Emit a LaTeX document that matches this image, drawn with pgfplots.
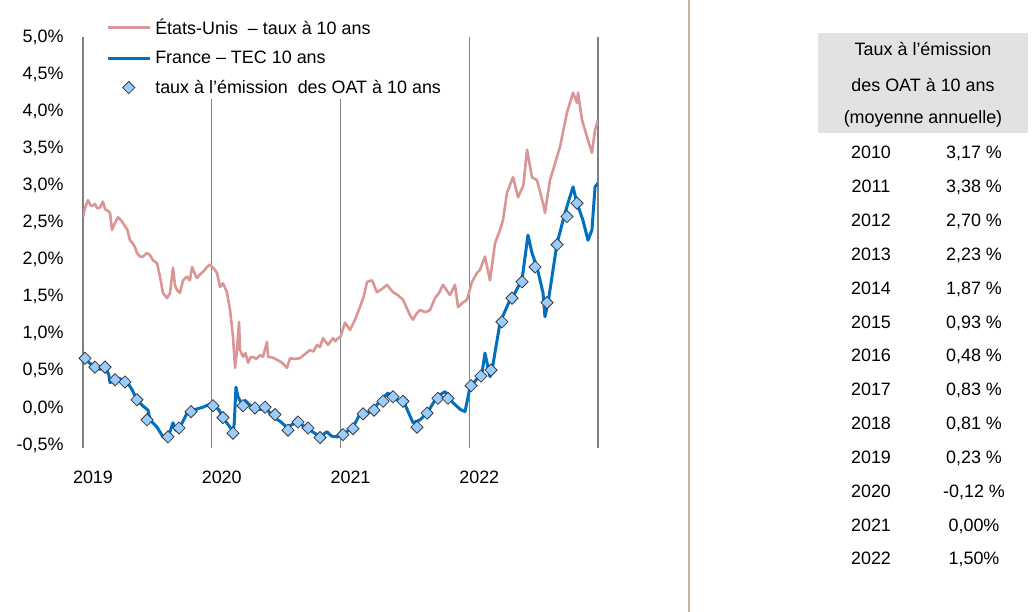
\documentclass[border=0pt]{standalone}
\usepackage{fontspec}
\setmainfont{Liberation Sans}
\usepackage{pgfplots}
\usepackage{pgfplotstable}
\pgfplotsset{compat=1.18}
\definecolor{usred}{RGB}{217,150,148}
\definecolor{frblue}{RGB}{0,112,192}
\definecolor{oatfill}{RGB}{153,204,255}
\definecolor{oatdraw}{RGB}{60,60,60}
\definecolor{sepcol}{RGB}{196,182,150}
\definecolor{hdr}{RGB}{226,226,226}
\newcommand{\fs}{\fontsize{18}{21}\selectfont}
\pgfplotsset{
  lineleg/.style={legend image code/.code={\draw[##1] (0bp,0bp) -- (42bp,0bp);}},
  markleg/.style={legend image code/.code={\draw[##1] plot coordinates {(21bp,0bp)};}},
}

\pgfplotstableread{
t v
2019.000 2.57
2019.016 2.70
2019.039 2.80
2019.055 2.74
2019.070 2.72
2019.093 2.75
2019.110 2.69
2019.132 2.70
2019.155 2.78
2019.171 2.68
2019.190 2.66
2019.210 2.63
2019.225 2.40
2019.250 2.50
2019.272 2.57
2019.300 2.52
2019.326 2.45
2019.345 2.40
2019.365 2.26
2019.385 2.22
2019.404 2.17
2019.419 2.09
2019.443 2.04
2019.466 2.04
2019.497 2.09
2019.520 2.06
2019.544 1.99
2019.575 1.95
2019.598 1.77
2019.621 1.55
2019.652 1.48
2019.676 1.55
2019.699 1.89
2019.715 1.65
2019.730 1.59
2019.753 1.55
2019.777 1.72
2019.808 1.77
2019.830 1.72
2019.847 1.90
2019.870 1.80
2019.885 1.75
2019.909 1.80
2019.935 1.84
2019.963 1.90
2019.986 1.93
2020.015 1.88
2020.041 1.82
2020.064 1.63
2020.087 1.68
2020.118 1.56
2020.142 1.32
2020.165 0.96
2020.181 0.54
2020.196 0.78
2020.212 1.16
2020.219 0.78
2020.243 0.69
2020.262 0.74
2020.282 0.61
2020.300 0.68
2020.320 0.69
2020.345 0.66
2020.375 0.71
2020.398 0.69
2020.429 0.89
2020.437 0.69
2020.470 0.68
2020.507 0.65
2020.545 0.61
2020.584 0.54
2020.608 0.67
2020.640 0.66
2020.685 0.67
2020.720 0.72
2020.763 0.78
2020.790 0.76
2020.817 0.85
2020.840 0.82
2020.864 0.94
2020.903 0.85
2020.942 0.94
2020.960 0.90
2020.981 0.94
2021.000 0.96
2021.035 1.15
2021.074 1.05
2021.113 1.19
2021.151 1.36
2021.180 1.50
2021.206 1.70
2021.245 1.72
2021.283 1.56
2021.320 1.60
2021.361 1.66
2021.408 1.56
2021.445 1.52
2021.485 1.46
2021.540 1.25
2021.563 1.19
2021.590 1.27
2021.618 1.32
2021.660 1.29
2021.695 1.32
2021.734 1.48
2021.765 1.55
2021.796 1.66
2021.850 1.52
2021.889 1.66
2021.913 1.36
2021.950 1.42
2021.983 1.46
2022.021 1.70
2022.060 1.82
2022.083 1.86
2022.122 2.04
2022.161 1.72
2022.200 2.22
2022.239 2.40
2022.262 2.53
2022.293 2.90
2022.340 3.11
2022.379 2.84
2022.420 3.00
2022.449 3.48
2022.487 3.11
2022.526 3.07
2022.573 2.76
2022.588 2.63
2022.627 3.07
2022.705 3.52
2022.759 3.98
2022.806 4.25
2022.837 4.11
2022.845 4.25
2022.876 3.88
2022.922 3.61
2022.953 3.44
2022.977 3.75
2023.000 3.88
}\ustable

\pgfplotstableread{
t v
2019.000 0.69
2019.040 0.62
2019.093 0.55
2019.132 0.52
2019.171 0.55
2019.200 0.45
2019.210 0.34
2019.249 0.38
2019.280 0.40
2019.342 0.35
2019.380 0.25
2019.419 0.11
2019.470 0.02
2019.505 -0.03
2019.520 -0.16
2019.575 -0.26
2019.621 -0.39
2019.660 -0.40
2019.699 -0.20
2019.720 -0.30
2019.753 -0.26
2019.808 -0.07
2019.854 -0.03
2019.932 0.01
2020.010 0.07
2020.064 -0.05
2020.087 -0.13
2020.150 -0.28
2020.165 -0.34
2020.175 -0.20
2020.188 0.28
2020.204 0.15
2020.235 0.04
2020.260 0.10
2020.320 0.00
2020.380 -0.02
2020.414 0.01
2020.476 -0.12
2020.530 -0.18
2020.584 -0.26
2020.662 -0.19
2020.740 -0.27
2020.790 -0.33
2020.841 -0.39
2020.895 -0.32
2020.930 -0.38
2020.973 -0.39
2021.019 -0.36
2021.097 -0.26
2021.167 -0.03
2021.200 -0.08
2021.252 -0.03
2021.300 0.08
2021.369 0.20
2021.439 0.11
2021.485 0.11
2021.563 -0.20
2021.618 -0.16
2021.672 -0.07
2021.750 0.15
2021.812 0.22
2021.874 0.07
2021.930 -0.02
2021.967 -0.05
2022.006 0.28
2022.040 0.35
2022.099 0.47
2022.122 0.74
2022.161 0.42
2022.177 0.51
2022.239 1.15
2022.317 1.46
2022.340 1.50
2022.394 1.68
2022.410 1.73
2022.456 2.33
2022.487 2.09
2022.526 1.90
2022.573 1.55
2022.588 1.23
2022.612 1.42
2022.682 2.22
2022.744 2.63
2022.806 2.98
2022.837 2.76
2022.883 2.53
2022.922 2.26
2022.953 2.40
2022.977 2.98
2023.000 3.03
}\frtable

\pgfplotstableread{
t v
2019.016 0.67
2019.093 0.55
2019.171 0.55
2019.249 0.38
2019.326 0.35
2019.419 0.11
2019.497 -0.16
2019.660 -0.39
2019.746 -0.27
2019.839 -0.05
2020.010 0.03
2020.087 -0.13
2020.165 -0.34
2020.243 0.03
2020.336 0.00
2020.414 0.01
2020.491 -0.09
2020.592 -0.30
2020.670 -0.19
2020.748 -0.27
2020.841 -0.40
2021.019 -0.36
2021.097 -0.28
2021.175 -0.08
2021.260 -0.03
2021.330 0.09
2021.408 0.15
2021.485 0.09
2021.594 -0.26
2021.672 -0.07
2021.757 0.13
2021.835 0.13
2022.014 0.30
2022.091 0.43
2022.169 0.51
2022.254 1.16
2022.332 1.48
2022.410 1.70
2022.511 1.90
2022.604 1.42
2022.682 2.20
2022.759 2.58
2022.837 2.76
}\oattable

\begin{document}
\begin{tikzpicture}[x=1bp,y=1bp]
\path[use as bounding box] (0,0) rectangle (1035,612);
\begin{axis}[
  at={(83bp,164bp)}, anchor=south west,
  scale only axis, width=515bp, height=411bp,
  xmin=2019, xmax=2023, ymin=-0.54, ymax=5,
  axis line style={draw=none},
  major tick length=0pt,
  xtick={2019,2020,2021,2022,2023},
  xticklabels={2019,2020,2021,2022,{}},
  ytick={-0.5,0,0.5,1,1.5,2,2.5,3,3.5,4,4.5,5},
  yticklabels={{-0,5\%},{0,0\%},{0,5\%},{1,0\%},{1,5\%},{2,0\%},{2,5\%},{3,0\%},{3,5\%},{4,0\%},{4,5\%},{5,0\%}},
  xmajorgrids, grid style={color=gray, line width=1.2bp},
  tick label style={font=\fs},
  xticklabel style={xshift=10bp, yshift=-19bp},
  yticklabel style={xshift=-16bp},
  legend style={at={(0.039,1.0535)}, anchor=north west, fill=white, draw=none, font=\fs, row sep=11bp,
    /tikz/every odd column/.append style={column sep=2bp}},
  legend cell align=left,
]
\addplot[usred, line width=2.6bp, line join=round, lineleg] table[x=t,y=v] {\ustable};
\addlegendentry{États-Unis\ \ – taux à 10 ans}
\addplot[frblue, line width=3bp, line join=round, lineleg] table[x=t,y=v] {\frtable};
\addlegendentry{France – TEC 10 ans}
\addplot[only marks, mark=square*, mark size=4.3bp, mark options={rotate=45, fill=oatfill, draw=oatdraw, line width=0.8bp}, markleg] table[x=t,y=v] {\oattable};
\addlegendentry{taux à l'émission\ \ des OAT à 10 ans}
\end{axis}
\draw[sepcol, line width=1.2bp] (689,0) -- (689,612);
\fill[hdr] (818,479) rectangle (1028,579);
\node[font=\fs] at (923,563) {Taux à l'émission};
\node[font=\fs] at (923,527) {des OAT à 10 ans};
\node[font=\fs] at (923,493) {(moyenne annuelle)};
\begin{scope}[every node/.style={font=\fs, anchor=base, inner sep=0pt}]
\node at (871,453) {2010}; \node at (974,453) {3,17~\%};
\node at (871,419) {2011}; \node at (974,419) {3,38~\%};
\node at (871,385) {2012}; \node at (974,385) {2,70~\%};
\node at (871,351) {2013}; \node at (974,351) {2,23~\%};
\node at (871,317) {2014}; \node at (974,317) {1,87~\%};
\node at (871,283) {2015}; \node at (974,283) {0,93~\%};
\node at (871,250) {2016}; \node at (974,250) {0,48~\%};
\node at (871,216) {2017}; \node at (974,216) {0,83~\%};
\node at (871,182) {2018}; \node at (974,182) {0,81~\%};
\node at (871,148) {2019}; \node at (974,148) {0,23~\%};
\node at (871,114) {2020}; \node at (974,114) {-0,12~\%};
\node at (871,80) {2021}; \node at (974,80) {0,00\%};
\node at (871,47) {2022}; \node at (974,47) {1,50\%};
\end{scope}
\end{tikzpicture}
\end{document}
